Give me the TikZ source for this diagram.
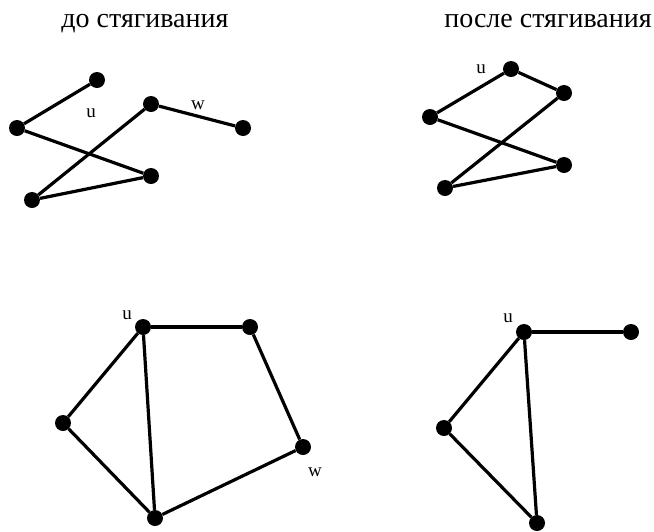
\documentclass[tikz,border=0pt]{standalone}
\usepackage{fontspec}
\setmainfont{Liberation Serif}
\usetikzlibrary{positioning}

\begin{document}
\begin{tikzpicture}[
  x=1pt, y=-1pt,
  every node/.style={align=center},
  vtx/.style={circle, fill=black, inner sep=0pt, minimum size=16pt},
  edg/.style={line width=3.2pt},
  ttl/.style={font=\fontsize{28}{30}\selectfont, anchor=base},
  lbl/.style={font=\fontsize{19}{21}\selectfont, inner sep=0pt},
]
\useasboundingbox (0,0) rectangle (654,531);

% titles
\node[ttl] (t1) at (145,27) {до стягивания};
\node[ttl] (t2) at (548,27) {после стягивания};

% before, top
\node[vtx] (a1) at (97,80) {};
\node[vtx] (b1) at (17,128) {};
\node[vtx] (c1) at (151,104) {};
\node[vtx] (d1) at (243,128) {};
\node[vtx] (e1) at (151,176) {};
\node[vtx] (f1) at (32,200) {};
\node[lbl] (u1) at (91,113) {u};
\node[lbl] (w1) at (198,105) {w};

\draw[edg] (a1) -- (b1);
\draw[edg] (b1) -- (e1);
\draw[edg] (c1) -- (f1);
\draw[edg] (c1) -- (d1);
\draw[edg] (e1) -- (f1);

% after, top
\node[vtx] (a2) at (511,69) {};
\node[vtx] (b2) at (564,93) {};
\node[vtx] (c2) at (430,117) {};
\node[vtx] (d2) at (564,165) {};
\node[vtx] (e2) at (445,188) {};
\node[lbl] (u2) at (481,69) {u};

\draw[edg] (c2) -- (a2);
\draw[edg] (a2) -- (b2);
\draw[edg] (b2) -- (e2);
\draw[edg] (c2) -- (d2);
\draw[edg] (d2) -- (e2);

% before, bottom
\node[vtx] (a3) at (143,327) {};
\node[vtx] (b3) at (250,327) {};
\node[vtx] (c3) at (303,447) {};
\node[vtx] (d3) at (155,518) {};
\node[vtx] (e3) at (63,423) {};
\node[lbl] (u3) at (127,315) {u};
\node[lbl] (w3) at (315,472) {w};

\draw[edg] (a3) -- (b3);
\draw[edg] (b3) -- (c3);
\draw[edg] (c3) -- (d3);
\draw[edg] (d3) -- (e3);
\draw[edg] (e3) -- (a3);
\draw[edg] (a3) -- (d3);

% after, bottom
\node[vtx] (a4) at (524,332) {};
\node[vtx] (b4) at (631,332) {};
\node[vtx] (c4) at (444,428) {};
\node[vtx] (d4) at (537,523) {};
\node[lbl] (u4) at (508,318) {u};

\draw[edg] (a4) -- (b4);
\draw[edg] (a4) -- (c4);
\draw[edg] (c4) -- (d4);
\draw[edg] (a4) -- (d4);
\end{tikzpicture}
\end{document}
